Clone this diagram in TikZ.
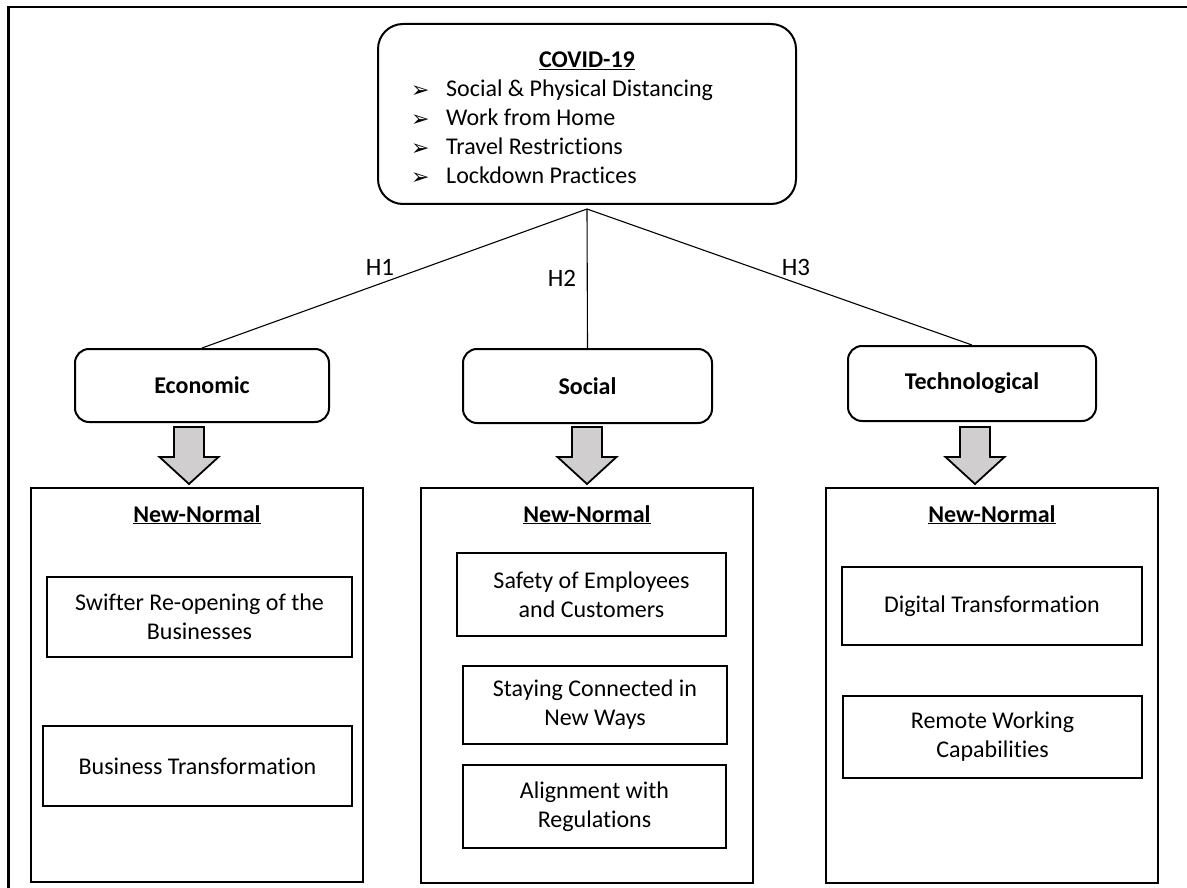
\documentclass[tikz,border=0pt]{standalone}
\usepackage{fontspec}
\setmainfont{Carlito}[Ligatures={NoCommon}]
\newfontfamily\dejavu{DejaVu Sans}
\definecolor{arrowgray}{RGB}{208,206,206}
\begin{document}
\begin{tikzpicture}[x=1pt,y=-1pt,
  rbox/.style={draw, line width=2pt, rounded corners=14pt, inner sep=0pt,
    font=\bfseries\fontsize{24}{29}\selectfont},
  nnbox/.style={draw, line width=2.2pt, inner sep=0pt},
  itembox/.style={draw, line width=2pt, inner sep=0pt, align=center,
    font=\fontsize{24}{29}\selectfont},
  bodytext/.style={inner sep=0pt, font=\fontsize{24}{29}\selectfont},
  titletext/.style={inner sep=0pt, font=\bfseries\fontsize{24}{29}\selectfont},
  bullet/.style={inner sep=0pt, font=\dejavu\fontsize{22}{22}\selectfont},
  hlabel/.style={inner sep=0pt, font=\fontsize{25}{25}\selectfont},
  link/.style={line width=1.1pt},
  blockarrow/.style={draw, line width=1.8pt, fill=arrowgray, line join=miter}
]
\useasboundingbox (0,0) rectangle (1187,888);
% outer frame
\draw[line width=2.5pt] (1190,7) -- (8.5,7) -- (8.5,890);

% top box
\node[rbox, rounded corners=25pt, minimum width=418, minimum height=180] (covid) at (587,114) {};
\node[titletext, anchor=base] (covidtitle) at (587,68) {\underline{COVID-19}};
\node[bullet, anchor=base west] (bl1) at (411,98) {➢};
\node[bullet, anchor=base west] (bl2) at (411,127) {➢};
\node[bullet, anchor=base west] (bl3) at (411,156) {➢};
\node[bullet, anchor=base west] (bl4) at (411,185) {➢};
\node[bodytext, anchor=base west] (it1) at (446,97) {Social \& Physical Distancing};
\node[bodytext, anchor=base west] (it2) at (446,126) {Work from Home};
\node[bodytext, anchor=base west] (it3) at (446,155) {Travel Restrictions};
\node[bodytext, anchor=base west] (it4) at (446,184) {Lockdown Practices};

% category boxes
\node[rbox, minimum width=254, minimum height=73] (econ) at (202,385.5) {Economic};
\node[rbox, minimum width=249, minimum height=74] (social) at (587.5,386) {Social};
\node[rbox, minimum width=248, minimum height=75] (tech) at (972,383.5) {Technological};

% connectors
\coordinate (apex) at (587,209);
\draw[link] (apex) -- (econ.north);
\draw[link] (apex) -- (social.north);
\draw[link] (apex) -- (tech.north);
\node[hlabel] (h1) at (380,267) {H1};
\node[hlabel] (h2) at (562,278) {H2};
\node[hlabel] (h3) at (796,267) {H3};

% block arrows
\foreach \cx in {189,587,975}{
  \draw[blockarrow, shift={(\cx,0)}] (-15,427) -- (15,427) -- (15,457) -- (29.5,457)
     -- (0,484) -- (-29.5,457) -- (-15,457) -- cycle;
}

% new-normal boxes
\node[nnbox, minimum width=332, minimum height=394] (econnn) at (197,685) {};
\node[nnbox, minimum width=332, minimum height=395] (socialnn) at (587,685.5) {};
\node[nnbox, minimum width=332, minimum height=395] (technn) at (992,685.5) {};
\node[titletext, anchor=base] (econnt) at (197,522) {\underline{New-Normal}};
\node[titletext, anchor=base] (socialnt) at (587,522) {\underline{New-Normal}};
\node[titletext, anchor=base] (technt) at (992,522) {\underline{New-Normal}};

% items
\node[itembox, minimum width=305, minimum height=80] (e1) at (199.5,617) {Swifter Re-opening of the\\Businesses};
\node[itembox, minimum width=309, minimum height=80] (e2) at (197.5,766) {Business Transformation};
\node[itembox, minimum width=269, minimum height=83] (s1) at (591.5,594.5) {Safety of Employees\\and Customers};
\node[itembox, minimum width=264, minimum height=78] (s2) at (595,705) {Staying Connected in\\New Ways};
\node[itembox, minimum width=263, minimum height=83] (s3) at (594.5,806.5) {Alignment with\\Regulations};
\node[itembox, minimum width=300, minimum height=78] (t1) at (992,606) {Digital Transformation};
\node[itembox, minimum width=299, minimum height=82] (t2) at (992.5,737) {Remote Working\\Capabilities};
\end{tikzpicture}
\end{document}
